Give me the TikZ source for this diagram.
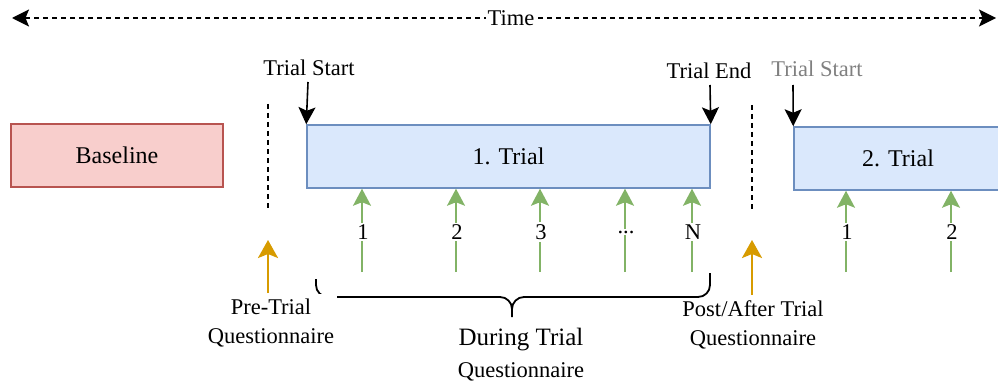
\documentclass[tikz,border=0pt]{standalone}
\usepackage{fontspec}
\setmainfont{Liberation Serif}
\usetikzlibrary{arrows.meta, positioning, calc}
\definecolor{basebg}{HTML}{F8CECC}
\definecolor{baseedge}{HTML}{B85450}
\definecolor{trialbg}{HTML}{DAE8FC}
\definecolor{trialedge}{HTML}{6C8EBF}
\definecolor{qgreen}{HTML}{82B366}
\definecolor{qorange}{HTML}{D79B00}
\definecolor{greytext}{HTML}{808080}
\newcommand{\tdots}{...}

\begin{document}
\begin{tikzpicture}[
		x=1pt, y=-1pt,
		box/.style={rectangle, line width=1.5pt, minimum height=63pt, inner sep=0pt, font=\fontsize{24}{28}\selectfont},
		lbl/.style={font=\fontsize{22.5}{29}\selectfont, align=center, inner sep=1.5pt},
		marker/.style={-{Stealth[length=17pt, width=17pt, inset=3.5pt]}, line width=1.6pt, draw=black},
		qarrow/.style={-{Stealth[length=17pt, width=18pt, inset=3.5pt]}, line width=1.6pt, draw=qgreen},
		prepost/.style={-{Stealth[length=18pt, width=20pt, inset=4pt]}, line width=2.5pt, draw=qorange},
		sep/.style={dashed, dash pattern=on 5pt off 4pt, line width=1.6pt},
		num/.style={lbl, fill=white, inner sep=2pt}
		]
		\path[use as bounding box] (0,0) rectangle (998,385);
		\clip (0,0) rectangle (998,385);
		
		% time axis
		\coordinate (tl) at (12,18);
		\coordinate (tr) at (996,18);
		\draw[sep, {Stealth[length=17pt, width=17pt, inset=3.5pt]}-{Stealth[length=17pt, width=17pt, inset=3.5pt]}] (tl) -- (tr);
		\node[lbl, fill=white] (time) at (511,18) {Time};
		
		% phases
		\node[box, draw=baseedge, fill=basebg, minimum width=212pt] (base) at (117,155.5) {Baseline};
		\node[box, draw=trialedge, fill=trialbg, minimum width=403pt] (trial1) at (508.5,156.5) {1. Trial};
		\node[box, draw=trialedge, fill=trialbg, minimum width=208pt] (trial2) at (898,158.5) {2. Trial};
		
		% start / end markers
		\node[lbl] (start1) at (309,68) {Trial Start};
		\node[lbl] (end1) at (709,71) {Trial End};
		\node[lbl, text=greytext] (start2) at (817,69) {Trial Start};
		\coordinate (s1) at (308,82);
		\coordinate (e1) at (710,85);
		\coordinate (s2) at (793,85);
		\draw[marker] (s1) -- (trial1.north west);
		\draw[marker] (e1) -- (trial1.north east);
		\draw[marker] (s2) -- (trial2.north west);
		
		% separators
		\coordinate (d1) at (268,104);
		\coordinate (d2) at (752,105);
		\draw[sep] (d1) -- ++(0,106);
		\draw[sep] (d2) -- ++(0,107);
		
		% during-trial questionnaires
		\foreach \px/\txt [count=\i] in {362/1, 456/2, 540/3, 625/\tdots, 692/N}{
			\coordinate (q\i) at (\px,272);
			\draw[qarrow] (q\i) -- (q\i |- trial1.south);
			\node[num] (n\i) at (\px+1,232) {\txt};
		}
		\foreach \px/\txt [count=\i] in {846/1, 951/2}{
			\coordinate (r\i) at (\px,272);
			\draw[qarrow] (r\i) -- (r\i |- trial2.south);
			\node[num] (m\i) at (\px+1,232) {\txt};
		}
		
		% brace
		\draw[line width=1.8pt] (316,279) -- (316,285) to[out=-90,in=180] (328,297) -- (500,297)
			to[out=0,in=90] (512,309) -- (512,317);
		\draw[line width=1.8pt] (512,309) to[out=90,in=180] (524,297) -- (698,297)
			to[out=0,in=-90] (710,285) -- (710,273);
		
		% pre / post questionnaires
		\node[lbl, fill=white, inner xsep=3pt, inner ysep=5pt] (pre) at (271,323) {Pre-Trial\\Questionnaire};
		\node[lbl] (post) at (753,325) {Post/After Trial\\Questionnaire};
		\coordinate (p1) at (268,293);
		\coordinate (p2) at (752,295);
		\draw[prepost] (p1) -- (p1 |- 0,240);
		\draw[prepost] (p2) -- (p2 |- 0,240);
		\node[lbl, font=\fontsize{25}{32}\selectfont] (during) at (521,340) {During Trial};
		\node[lbl] (duringq) at (521,372) {Questionnaire};
	\end{tikzpicture}
\end{document}
